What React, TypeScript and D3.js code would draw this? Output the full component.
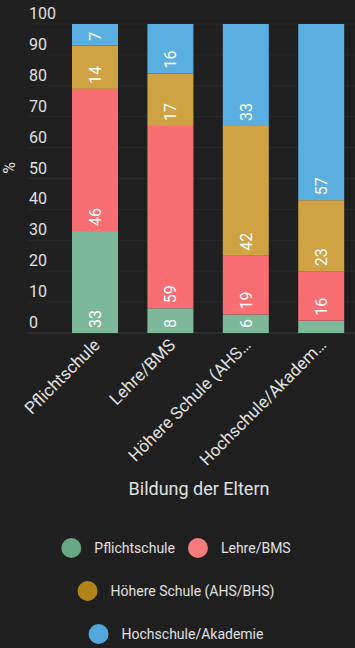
import React from "react";
import * as d3 from "d3";

const categories = ["Pflichtschule", "Lehre/BMS", "Höhere Schule (AHS/BHS)", "Hochschule/Akademie"];
const categoryLabels = ["Pflichtschule", "Lehre/BMS", "Höhere Schule (AHS…", "Hochschule/Akadem…"];
const seriesNames = ["Pflichtschule", "Lehre/BMS", "Höhere Schule (AHS/BHS)", "Hochschule/Akademie"];
const pflichtschule = [33, 8, 6, 4];
const lehreBms = [46, 59, 19, 16];
const hoehereSchule = [14, 17, 42, 23];
const hochschule = [7, 16, 33, 57];
const yTicks = [0, 10, 20, 30, 40, 50, 60, 70, 80, 90, 100];

const barColors = ["#7db89a", "#f96e73", "#cfa244", "#5aafe0"];
const legendColors = ["#67a884", "#f77a7d", "#b08418", "#50a8dc"];

const W = 355;
const H = 648;
const BG = "#1f1f1f";
const TEXT = "#e0e0e0";
const FONT = "Roboto, 'Noto Sans', sans-serif";

export default function App() {
  const series = [pflichtschule, lehreBms, hoehereSchule, hochschule];
  const rows = categories.map((c, i) => {
    const r: any = { cat: c };
    seriesNames.forEach((s, j) => (r[s] = series[j][i]));
    return r;
  });
  const stacked = d3.stack<any>().keys(seriesNames)(rows);

  const x = d3
    .scaleBand<string>()
    .domain(categories)
    .range([57.3, 358.9])
    .paddingInner(0.39)
    .paddingOuter(0.195);
  const y = d3.scaleLinear().domain([0, 100]).range([333, 24]);

  const legendRows = [[0, 1], [2], [3]];
  const legendY = [548, 591, 634];

  const measure = (t: string, size: number) => {
    if (typeof document === "undefined") return t.length * size * 0.5;
    const canvas = (measure as any).c || ((measure as any).c = document.createElement("canvas"));
    const ctx = canvas.getContext("2d");
    ctx.font = `${size}px Roboto`;
    return ctx.measureText(t).width;
  };

  return (
    <div style={{ position: "absolute", left: 0, top: 0, width: W, height: H, background: BG }}>
      <svg width={W} height={H} style={{ display: "block", fontFamily: FONT }}>
        <rect x={0} y={0} width={W} height={H} fill={BG} />
        {yTicks.map((t) => (
          <g key={t}>
            <line x1={28} x2={W} y1={y(t)} y2={y(t)} stroke={t === 0 ? "#3a3a3a" : "#292929"} strokeWidth={1} />
            <text x={29} y={y(t) - 5} fill={TEXT} fontSize={16}>
              {t}
            </text>
          </g>
        ))}
        <text
          transform={`translate(15,168) rotate(-90)`}
          textAnchor="middle"
          fill={TEXT}
          fontSize={16}
        >
          %
        </text>
        {stacked.map((layer, si) => (
          <g key={layer.key} fill={barColors[si]}>
            {layer.map((d, ci) => (
              <rect
                key={ci}
                x={x(categories[ci])}
                y={y(d[1])}
                width={x.bandwidth()}
                height={y(d[0]) - y(d[1])}
              />
            ))}
          </g>
        ))}
        {stacked.map((layer, si) =>
          layer.map((d, ci) => {
            const v = d[1] - d[0];
            if (v < 5) return null;
            const cx = (x(categories[ci]) as number) + x.bandwidth() / 2;
            const yb = y(d[0]) - 5;
            return (
              <text
                key={`${si}-${ci}`}
                transform={`translate(${cx + 6},${yb}) rotate(-90)`}
                fill="#ffffff"
                fontSize={16}
                textAnchor="start"
              >
                {v}
              </text>
            );
          })
        )}
        {categories.map((c, i) => {
          const cx = (x(c) as number) + x.bandwidth() / 2;
          return (
            <text
              key={c}
              transform={`translate(${cx + 6},${346}) rotate(-45)`}
              fill={TEXT}
              fontSize={17}
              textAnchor="end"
            >
              {categoryLabels[i]}
            </text>
          );
        })}
        <text x={199} y={495} textAnchor="middle" fill={TEXT} fontSize={18}>
          Bildung der Eltern
        </text>
        {legendRows.map((row, ri) => {
          const widths = row.map((k) => 23 + measure(seriesNames[k], 14));
          const gap = 23;
          const total = widths.reduce((a, b) => a + b, 0) + gap * (row.length - 1) + 10;
          let cur = 176 - total / 2 + 10;
          return (
            <g key={ri}>
              {row.map((k, j) => {
                const cx = cur;
                cur += widths[j] + gap;
                return (
                  <g key={k}>
                    <circle cx={cx} cy={legendY[ri]} r={10} fill={legendColors[k]} />
                    <text x={cx + 23} y={legendY[ri] + 5} fill={TEXT} fontSize={14}>
                      {seriesNames[k]}
                    </text>
                  </g>
                );
              })}
            </g>
          );
        })}
      </svg>
    </div>
  );
}
